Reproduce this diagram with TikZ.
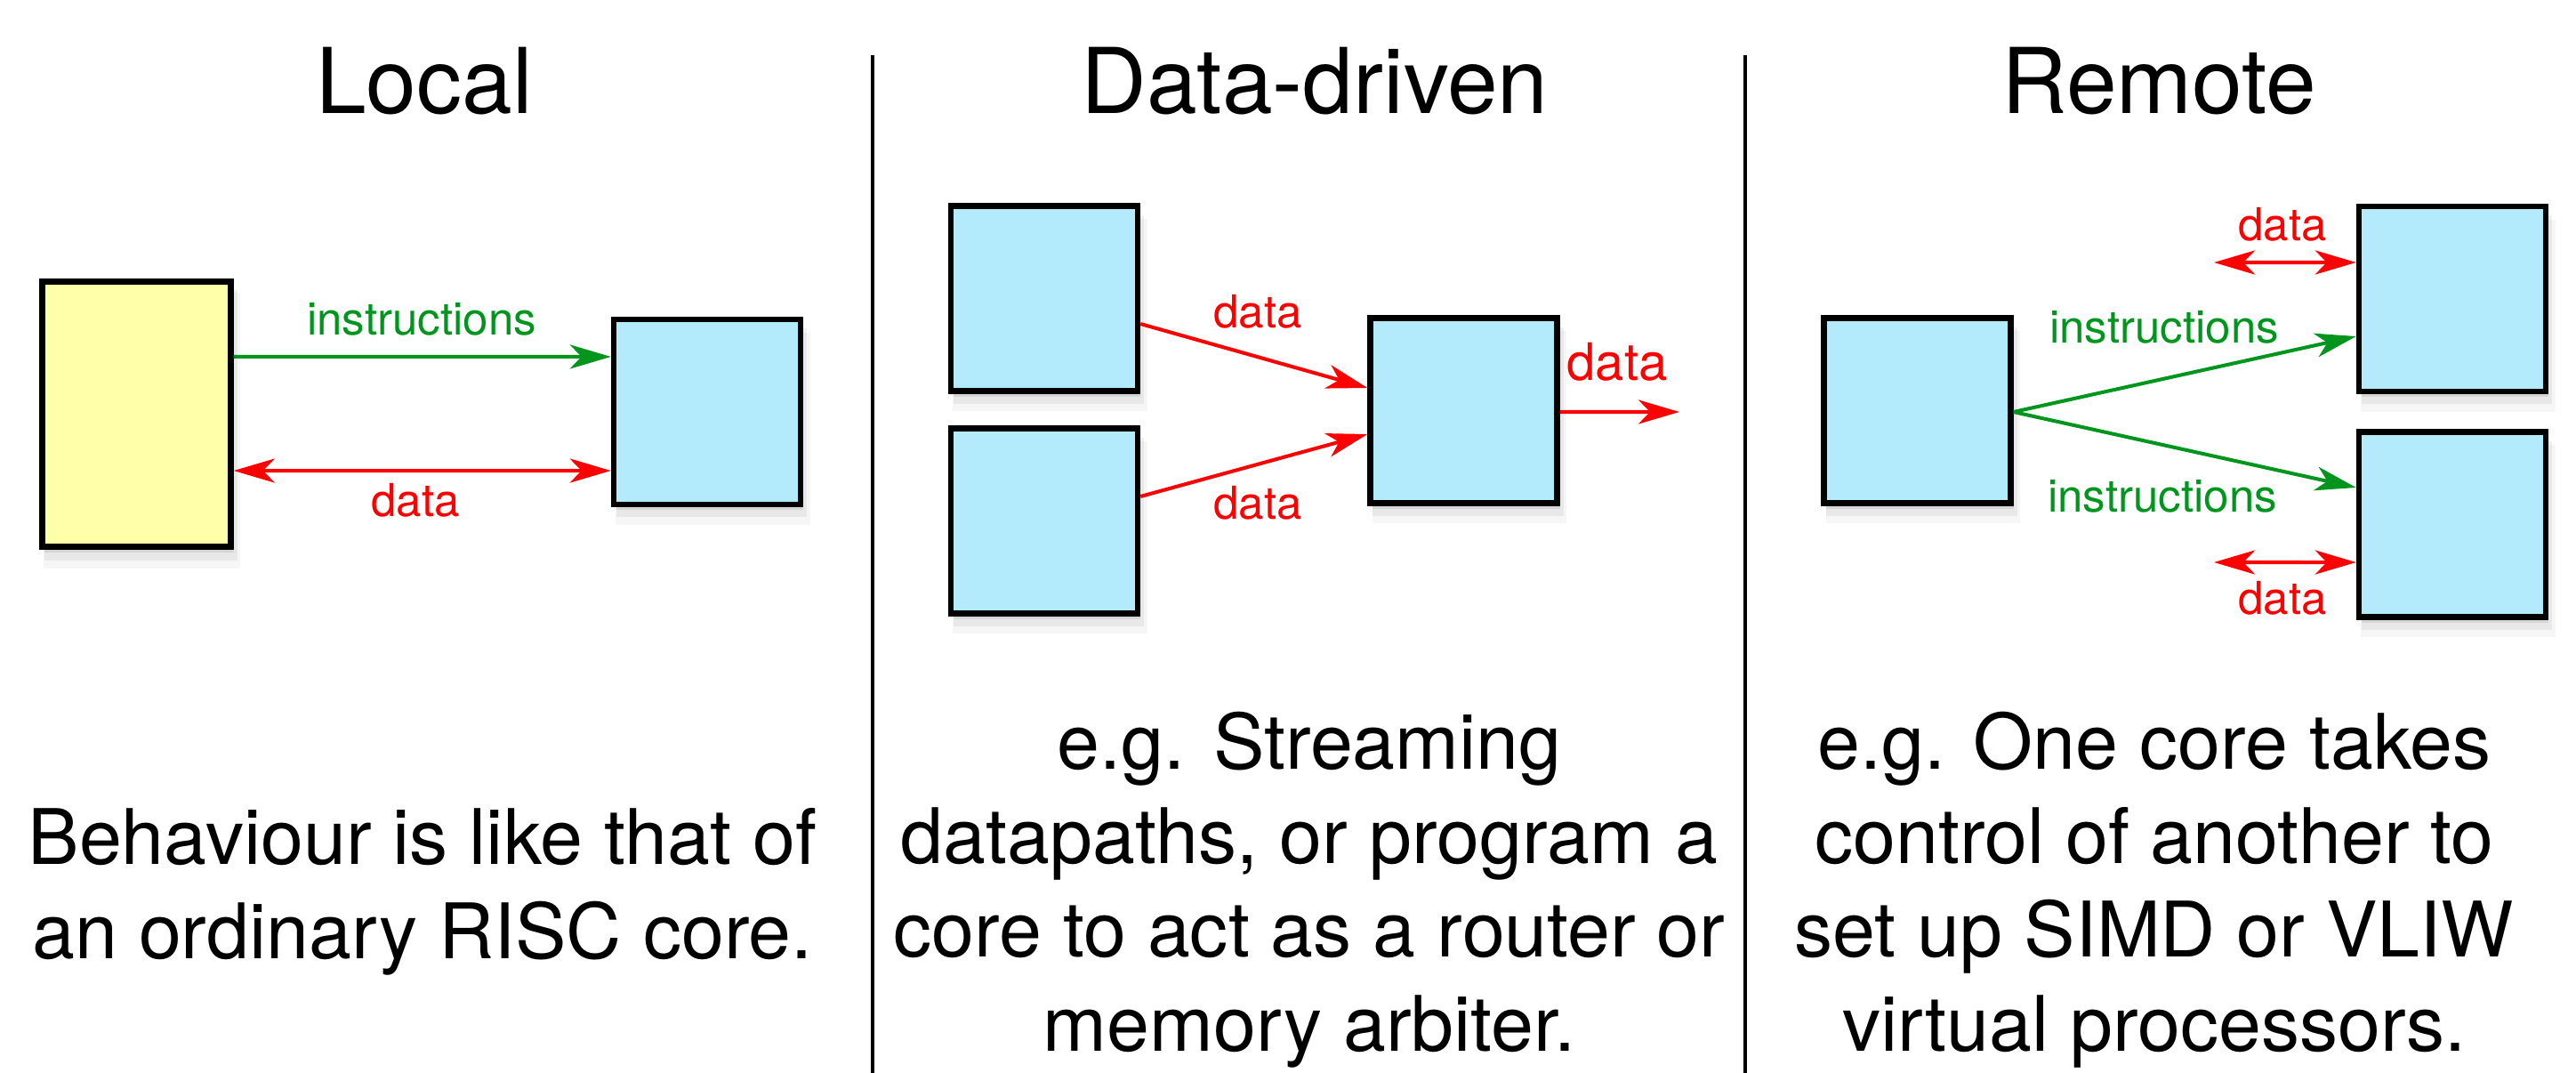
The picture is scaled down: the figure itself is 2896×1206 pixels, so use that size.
\documentclass[tikz,border=0pt]{standalone}
\usepackage{fontspec}
\setmainfont{TeX Gyre Heros}
\usetikzlibrary{arrows.meta,shadows}
\definecolor{boxyellow}{RGB}{255,255,170}
\definecolor{boxblue}{RGB}{180,235,252}
\definecolor{arrgreen}{RGB}{0,150,30}
\definecolor{arrred}{RGB}{255,0,0}
\begin{document}
\begin{tikzpicture}[x=0.01cm,y=-0.01cm,
  softshadow/.style={
    drop shadow={shadow xshift=0.03cm, shadow yshift=-0.06cm, opacity=0.18},
    drop shadow={shadow xshift=0.05cm, shadow yshift=-0.12cm, opacity=0.12, shadow scale=1.02},
    drop shadow={shadow xshift=0.06cm, shadow yshift=-0.18cm, opacity=0.07, shadow scale=1.04}},
  core/.style={draw=black, line width=1.8pt, inner sep=0pt, minimum width=2.1cm, minimum height=2.08cm, fill=boxblue, softshadow},
  memcore/.style={core, fill=boxyellow, minimum width=2.12cm, minimum height=2.98cm},
  title/.style={font=\fontsize{29}{35}\selectfont, inner sep=0pt, anchor=base},
  body/.style={font=\fontsize{24.5}{30}\selectfont, align=center, inner sep=0pt, anchor=base},
  lab/.style={font=\fontsize{14.5}{17}\selectfont, inner sep=0pt, anchor=base},
  instr/.style={draw=arrgreen, line width=1.15pt, -{Stealth[length=0.46cm, width=0.27cm, inset=0.13cm]}},
  dat/.style={draw=arrred, line width=1.15pt, -{Stealth[length=0.46cm, width=0.27cm, inset=0.13cm]}},
  bidat/.style={draw=arrred, line width=1.15pt, {Stealth[length=0.46cm, width=0.27cm, inset=0.13cm]}-{Stealth[length=0.46cm, width=0.27cm, inset=0.13cm]}},
  divider/.style={draw=black, line width=1.1pt}]
\useasboundingbox (0,0) rectangle (2896,1206);

% titles
\node[title] (tLocal) at (477,127) {Local};
\node[title] (tData) at (1478,127) {Data-driven};
\node[title] (tRemote) at (2427,127) {Remote};

% dividers
\coordinate (d1t) at (981,62);
\coordinate (d1b) at (981,1206);
\coordinate (d2t) at (1962,62);
\coordinate (d2b) at (1962,1206);
\draw[divider] (d1t) -- (d1b);
\draw[divider] (d2t) -- (d2b);

% ---- Local ----
\node[memcore] (Y) at (153.5,465.5) {};
\node[core] (LB) at (795,463) {};
\draw[instr] ([yshift=0.645cm]Y.east) -- ([yshift=0.62cm]LB.west);
\draw[bidat] ([yshift=-0.635cm]Y.east) -- ([yshift=-0.66cm]LB.west);
\node[lab, text=arrgreen] (lLi) at (474,376) {instructions};
\node[lab, text=arrred] (lLd) at (467,580) {data};
\node[body] (bLocal) at (475,1077) {Behaviour is like that of\\an ordinary RISC core.};

% ---- Data-driven ----
\node[core] (DTL) at (1174,335.5) {};
\node[core] (DBL) at (1174,585.5) {};
\node[core] (DR) at (1645.5,461.5) {};
\coordinate (DOut) at (1888,463);
\draw[dat] ([yshift=-0.285cm]DTL.east) -- ([yshift=0.255cm]DR.west);
\draw[dat] ([yshift=0.275cm]DBL.east) -- ([yshift=-0.265cm]DR.west);
\draw[dat] ([yshift=-0.015cm]DR.east) -- (DOut);
\node[lab, text=arrred] (lD1) at (1414,368) {data};
\node[lab, text=arrred] (lD2) at (1414,583) {data};
\node[lab, text=arrred, font=\fontsize{16.5}{19}\selectfont] (lD3) at (1818,427) {data};
\node[body] (bData) at (1472,1181) {e.g. Streaming\\datapaths, or program a\\core to act as a router or\\memory arbiter.};

% ---- Remote ----
\node[core] (RL) at (2155.5,461.5) {};
\node[core] (RTR) at (2757,336) {};
\node[core] (RBR) at (2757,589.5) {};
\draw[instr] ([yshift=-0.015cm]RL.east) -- ([yshift=-0.42cm]RTR.west);
\draw[instr] ([yshift=-0.015cm]RL.east) -- ([yshift=0.415cm]RBR.west);
\coordinate (RDt) at (2489,295);
\coordinate (RDb) at (2489,632);
\draw[bidat] (RDt) -- ([yshift=0.41cm]RTR.west);
\draw[bidat] (RDb) -- ([yshift=-0.425cm]RBR.west);
\node[lab, text=arrgreen] (lRi1) at (2433,385) {instructions};
\node[lab, text=arrgreen] (lRi2) at (2431,575) {instructions};
\node[lab, text=arrred] (lRd1) at (2566,270) {data};
\node[lab, text=arrred] (lRd2) at (2566,690) {data};
\node[body] (bRemote) at (2422,1181) {e.g. One core takes\\control of another to\\set up SIMD or VLIW\\virtual processors.};
\end{tikzpicture}
\end{document}
